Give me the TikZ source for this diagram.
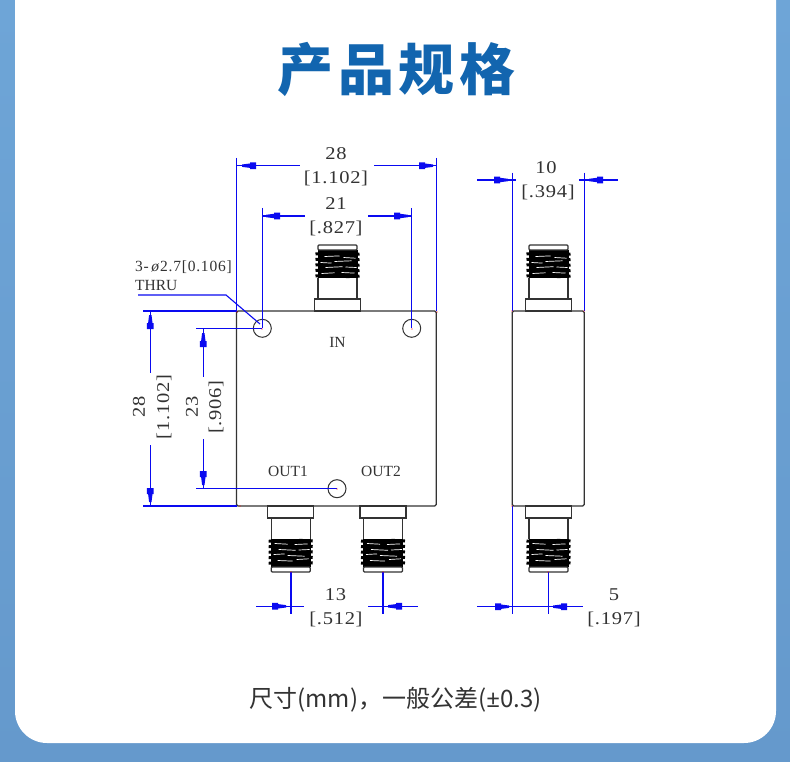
\documentclass[tikz,border=0pt]{standalone}
\usepackage{fontspec}
\usepackage{xcolor}
\setmainfont{Liberation Serif}
\newfontfamily\dimfont[FakeStretch=1.14,LetterSpace=4]{Liberation Serif}
\newfontfamily\cjktitle[LetterSpace=8]{Noto Sans CJK SC}
\newfontfamily\cjkcaption{Noto Sans CJK SC}
\newfontfamily\captionlatin{Noto Sans}
\definecolor{dimblue}{HTML}{0A0AF0}
\definecolor{bodygray}{HTML}{333333}
\definecolor{titleblue}{HTML}{1265AF}
\definecolor{bandtop}{HTML}{6EA5D7}
\definecolor{bandbottom}{HTML}{6599CC}
\tikzset{
  dimline/.style={draw=dimblue,line width=1.4pt},
  bodyline/.style={draw=bodygray,line width=1.3pt},
  dimtext/.style={text=bodygray,inner sep=0pt,font=\fontsize{18}{20}\dimfont},
  marktext/.style={text=bodygray,inner sep=0pt,font=\fontsize{15.5}{17}\selectfont},
  reddot/.style={fill=red,draw=none},
  arrowblob/.pic={
    \fill[dimblue] (0,-1.2)--(8,-2.2)--(8,-3.4)--(14,-3.4)--(14,3.4)--(8,3.4)--(8,2.2)--(0,1.2)--cycle;
  },
  connector/.pic={
    \draw[bodyline,fill=white] (-23,0) rectangle (23,12);
    \draw[bodyline] (-19.5,12)--(-19.5,33) (19.5,12)--(19.5,33);
    \fill[black] (-20,33) rectangle (20,61);
    \foreach \h in {35,40.5,46,51.5,57}{
      \draw[line width=3pt,black,rounded corners=1pt] (-22,\h)--(-10,\h+0.6)--(10,\h-0.6)--(22,\h);
    }
    \foreach \h/\a/\b/\c in {37.5/-16/-3/0.7,38.5/4/17/-0.6,43.5/-12/5/0.8,44/8/19/-0.5,48.5/-17/-6/-0.6,49.5/-3/14/0.7,54.5/-13/2/0.6,53.5/6/18/-0.7}{
      \draw[white,line width=0.7pt] (\a,\h)--(\b,\h+\c);
    }
    \draw[bodyline,fill=white,rounded corners=1pt] (-19.5,61) rectangle (19.5,66);
  }
}
\begin{document}
\begin{tikzpicture}[x=1pt,y=-1pt]
    \useasboundingbox (0,0) rectangle (790,762);
    \shade[top color=bandtop,bottom color=bandbottom] (0,0) rectangle (790,762);
    \fill[white,rounded corners=32pt] (15,-60)--(15,743)--(776,743)--(776,-60)--cycle;

    \node[text=titleblue,inner sep=0pt,font=\fontsize{56}{60}\cjktitle\bfseries] (title) at (396.5,69) {产品规格};

    % front view
    \coordinate (holeA) at (262.3,328.3);
    \coordinate (holeB) at (411.7,328.3);
    \coordinate (holeC) at (337,488.7);
    \draw[bodyline,rounded corners=1.5pt] (236.5,311) rectangle (436.3,506);
    \pic at (337.5,311) [yscale=-1] {connector};
    \pic at (290.7,506) {connector};
    \pic at (383,506) {connector};
    \draw[bodyline,line width=1pt] (holeA) circle (9);
    \draw[bodyline,line width=1pt] (holeB) circle (9);
    \draw[bodyline,line width=1pt] (holeC) circle (9);

    \draw[dimline] (236.3,158)--(236.3,311);
    \draw[dimline] (436.3,158)--(436.3,311);
    \draw[dimline] (236.3,165.7)--(300,165.7);
    \draw[dimline] (374,165.7)--(436.3,165.7);
    \pic at (242,165.7) {arrowblob};
    \pic at (433,165.7) [rotate=180] {arrowblob};
    \node[dimtext] (w28) at (336,154) {28};
    \node[dimtext] (w28in) at (336,178) {[1.102]};

    \draw[dimline] (262.3,208)--(holeA);
    \draw[dimline] (411.7,208)--(holeB);
    \draw[dimline] (262.3,216)--(305,216);
    \draw[dimline] (368,216)--(411.7,216);
    \pic at (266,216) {arrowblob};
    \pic at (408,216) [rotate=180] {arrowblob};
    \node[dimtext] (w21) at (336,204) {21};
    \node[dimtext] (w21in) at (336,228) {[.827]};

    \draw[dimline,line width=1.1pt] (138,295)--(226,295)--(260,324);
    \node[marktext,anchor=west] (holetext) at (135,267) {\addfontfeature{LetterSpace=5}3-\,\textit{ø}2.7[0.106]};
    \node[marktext,anchor=west] (thrutext) at (135,286) {THRU};

    \draw[dimline] (143,311)--(237,311);
    \draw[dimline] (143,506)--(237,506);
    \draw[dimline] (150.3,311)--(150.3,373);
    \draw[dimline] (150.3,445)--(150.3,506);
    \pic at (150.3,315) [rotate=-90] {arrowblob};
    \pic at (150.3,502) [rotate=90] {arrowblob};
    \node[dimtext,rotate=90] (h28) at (139,407) {28};
    \node[dimtext,rotate=90] (h28in) at (164,407) {[1.102]};

    \draw[dimline] (196,328.3)--(holeA);
    \draw[dimline] (196,488.7)--(holeC);
    \draw[dimline] (203.3,328.3)--(203.3,377);
    \draw[dimline] (203.3,439)--(203.3,488.7);
    \pic at (203.3,333) [rotate=-90] {arrowblob};
    \pic at (203.3,485) [rotate=90] {arrowblob};
    \node[dimtext,rotate=90] (h23) at (192,407) {23};
    \node[dimtext,rotate=90] (h23in) at (216,407) {[.906]};

    \node[marktext] (in) at (337.5,342) {IN};
    \node[marktext] (out1) at (288,471) {OUT1};
    \node[marktext] (out2) at (381,471) {OUT2};

    \draw[dimline] (291,572)--(291,614);
    \draw[dimline] (383,572)--(383,614);
    \draw[dimline] (256,606.3)--(304,606.3);
    \draw[dimline] (368,606.3)--(418,606.3);
    \pic at (286,606.3) [rotate=180] {arrowblob};
    \pic at (388,606.3) {arrowblob};
    \node[dimtext] (s13) at (335.5,595) {13};
    \node[dimtext] (s13in) at (336,619) {[.512]};

    % side view
    \draw[bodyline,rounded corners=1.5pt] (512.3,311) rectangle (584.3,506);
    \pic at (548.5,311) [yscale=-1] {connector};
    \pic at (548.5,506) {connector};

    \draw[dimline] (512.3,172.7)--(512.3,311);
    \draw[dimline] (584.3,172.7)--(584.3,311);
    \draw[dimline] (477.3,180)--(515.7,180);
    \draw[dimline] (579,180)--(618,180);
    \pic at (508,180) [rotate=180] {arrowblob};
    \pic at (589,180) {arrowblob};
    \node[dimtext] (d10) at (546,168) {10};
    \node[dimtext] (d10in) at (548,192) {[.394]};

    \draw[dimline] (512.3,506)--(512.3,614);
    \draw[dimline] (548.3,572)--(548.3,614);
    \draw[dimline] (477.3,606.7)--(583,606.7);
    \pic at (509,606.7) [rotate=180] {arrowblob};
    \pic at (553,606.7) {arrowblob};
    \node[dimtext] (d5) at (614,595) {5};
    \node[dimtext] (d5in) at (614,619) {[.197]};

    \foreach \px/\py in {237/312,437/312,240/506,337/489,412/329,262/329,291/572,383/572,512/311,584/311,512/506,548/572}{
      \fill[reddot] (\px,\py) circle (0.7);
    }

    \node[text=bodygray,inner sep=0pt,font=\fontsize{24}{26}\cjkcaption] (caption) at (395.5,700) {尺寸(mm)，一般公差({\captionlatin ±}0.3)};
\end{tikzpicture}
\end{document}
